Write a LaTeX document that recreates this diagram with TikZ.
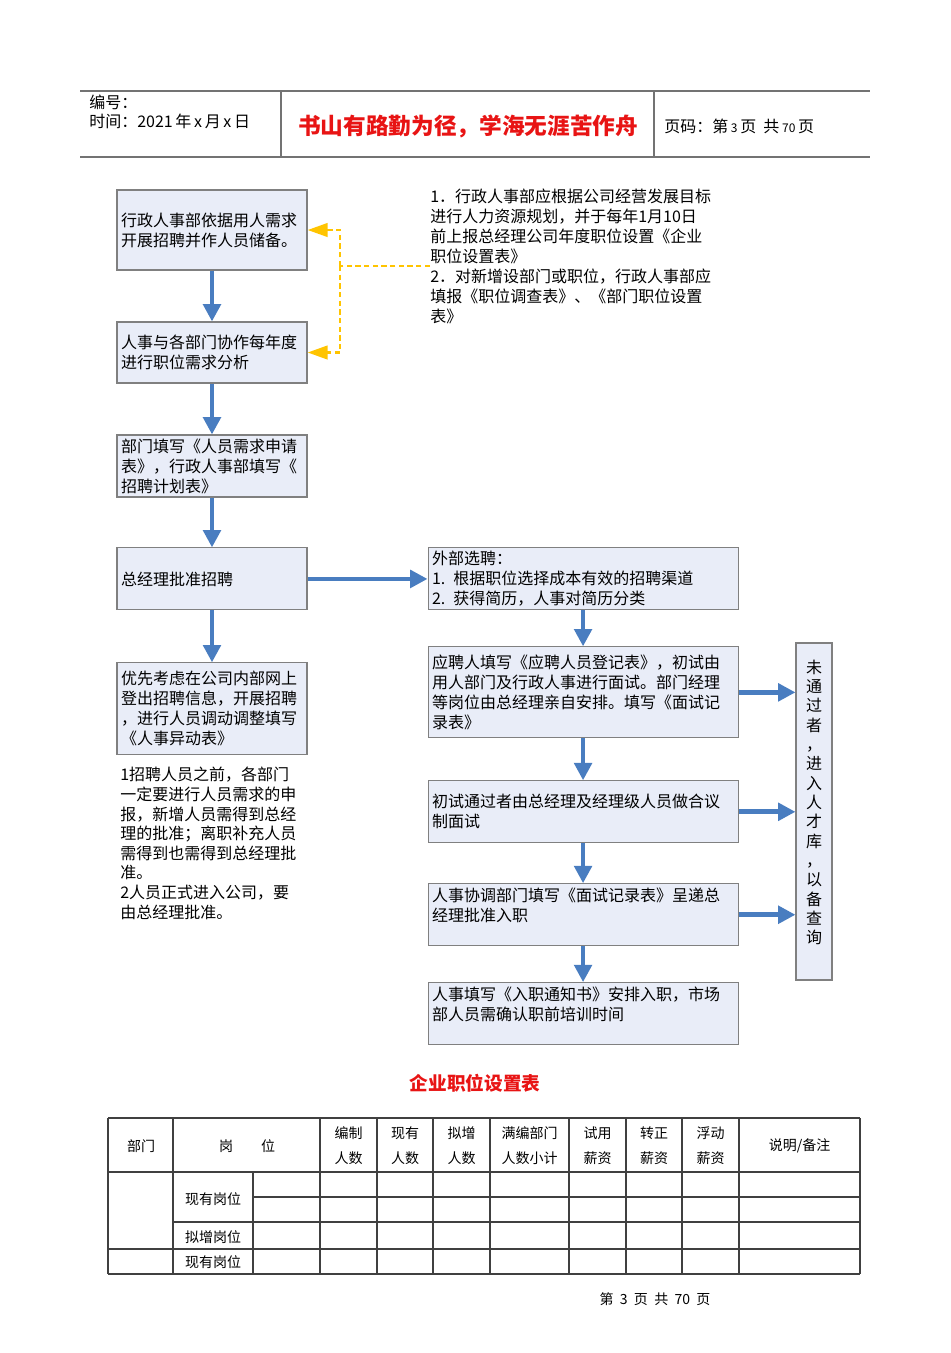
\documentclass[tikz,border=0pt]{standalone}
\usepackage{fontspec}
\setmainfont{Noto Sans CJK SC}
\usetikzlibrary{positioning,arrows.meta}
\definecolor{boxfill}{RGB}{233,237,248}
\definecolor{boxline}{RGB}{128,128,128}
\definecolor{flowblue}{RGB}{73,125,192}
\definecolor{noteyellow}{RGB}{255,196,0}
\definecolor{titlered}{RGB}{232,20,20}
\tikzset{
  lbox/.style={draw=boxline, fill=boxfill, line width=0.8pt, text width=136.5pt,
    inner xsep=3pt, inner ysep=1pt, align=left, font=\fontsize{12}{15}\selectfont},
  rbox/.style={lbox, text width=226.5pt},
  flow/.style={draw=flowblue, line width=3.5pt, -{Triangle[length=13pt,width=13pt]}},
  link/.style={draw=noteyellow, line width=2.2pt, dash pattern=on 4pt off 2.5pt},
  linktip/.style={-{Triangle[length=15pt,width=10pt]}},
  note/.style={inner sep=0pt, align=left, font=\fontsize{12}{15}\selectfont},
  headtext/.style={anchor=west, inner sep=0pt, font=\fontsize{12}{14}\selectfont},
  frameline/.style={draw=black!55, line width=1.1pt},
  tabline/.style={draw=black!75, line width=0.8pt},
  cell/.style={inner sep=0pt, align=center, font=\fontsize{10.5}{18.75}\selectfont},
}
\begin{document}
\begin{tikzpicture}[x=0.75pt,y=-0.75pt]
  \useasboundingbox (0,0) rectangle (950,1353);
  % page header
  \draw[frameline] (80,91) -- (870,91);
  \draw[frameline] (80,157) -- (870,157);
  \draw[frameline] (281,91) -- (281,157);
  \draw[frameline] (654,91) -- (654,157);
  \node[headtext] (num) at (89,102) {编号：};
  \node[headtext] (date) at (89,121) {时间：2021\,年\,x\,月\,x\,日};
  \node[text=titlered, font=\fontsize{17}{20}\selectfont\bfseries] (motto) at (468,126)
    {书山有路勤为径，学海无涯苦作舟};
  \node[headtext] (pageno) at (664,126) {页码：第\,{\small 3}\,页\ \ 共\,{\small 70}\,页};

  % left column
  \node[lbox, minimum height=60pt] (b1) at (212,230)
    {行政人事部依据用人需求\\开展招聘并作人员储备。};
  \node[lbox, minimum height=45.75pt] (b2) [below=38.2pt of b1]
    {人事与各部门协作每年度\\进行职位需求分析};
  \node[lbox, minimum height=46.5pt] (b3) [below=38.2pt of b2]
    {部门填写《人员需求申请\\表》，行政人事部填写《\\招聘计划表》};
  \node[lbox, minimum height=46.5pt] (b4) [below=37.4pt of b3] {总经理批准招聘};
  \node[lbox, minimum height=69pt] (b5) [below=38.9pt of b4]
    {优先考虑在公司内部网上\\登出招聘信息，开展招聘\\，进行人员调动调整填写\\《人事异动表》};
  \node[note, anchor=north west, text width=136.5pt, font=\fontsize{12}{14.7}\selectfont] (rule) at (120,767)
    {1招聘人员之前，各部门\\一定要进行人员需求的申\\报，新增人员需得到总经\\理的批准；离职补充人员\\需得到也需得到总经理批\\准。\\2人员正式进入公司，要\\由总经理批准。};

  % right column
  \node[note, anchor=north west, text width=225pt] (plan) at (430,189)
    {1．行政人事部应根据公司经营发展目标\\进行人力资源规划，并于每年1月10日\\前上报总经理公司年度职位设置《企业\\职位设置表》\\2．对新增设部门或职位，行政人事部应\\填报《职位调查表》、《部门职位设置\\表》};
  \node[rbox, minimum height=46.5pt] (r1) [right=90pt of b4]
    {外部选聘：\\1. 根据职位选择成本有效的招聘渠道\\2. 获得简历，人事对简历分类};
  \node[rbox, minimum height=68.25pt] (r2) [below=26.9pt of r1]
    {应聘人填写《应聘人员登记表》，初试由\\用人部门及行政人事进行面试。部门经理\\等岗位由总经理亲自安排。填写《面试记\\录表》};
  \node[rbox, minimum height=46.5pt] (r3) [below=31.4pt of r2]
    {初试通过者由总经理及经理级人员做合议\\制面试};
  \node[rbox, minimum height=46.5pt] (r4) [below=29.9pt of r3]
    {人事协调部门填写《面试记录表》呈递总\\经理批准入职\\~};
  \node[rbox, minimum height=46.5pt] (r5) [below=26.9pt of r4]
    {人事填写《入职通知书》安排入职，市场\\部人员需确认职前培训时间\\~};
  \node[lbox, text width=21pt, minimum height=252.75pt, align=center,
        font=\fontsize{12}{14.5}\selectfont] (pool) at (814,811.5)
    {未\\通\\过\\者\\，\\进\\入\\人\\才\\库\\，\\以\\备\\查\\询\\~};

  % dashed link from the planning note
  \coordinate (hub) at (340,266);
  \draw[link] (plan.west |- hub) -- (hub);
  \draw[link, linktip] (hub) |- (b1.east);
  \draw[link, linktip] (hub) |- (b2.east);

  % Directed edge
  \draw[flow] (b1) -- (b2);
  \draw[flow] (b2) -- (b3);
  \draw[flow] (b3) -- (b4);
  \draw[flow] (b4) -- (b5);
  \draw[flow] (b4) -- (r1);
  \draw[flow] (r1) -- (r2);
  \draw[flow] (r2) -- (r3);
  \draw[flow] (r3) -- (r4);
  \draw[flow] (r4) -- (r5);
  \draw[flow] (r2.east) -- (r2.east -| pool.west);
  \draw[flow] (r3.east) -- (r3.east -| pool.west);
  \draw[flow] (r4.east) -- (r4.east -| pool.west);

  % position table
  \node[text=titlered, font=\fontsize{14}{16}\selectfont\bfseries] (tabtitle) at (475,1083) {企业职位设置表};
  \foreach \x in {108,173,320,377,433,490,569,626,682,739,860}
    \draw[tabline] (\x,1118) -- (\x,1274);
  \draw[tabline] (253,1172) -- (253,1274);
  \draw[tabline] (108,1118) -- (860,1118);
  \draw[tabline] (108,1172) -- (860,1172);
  \draw[tabline] (253,1197) -- (860,1197);
  \draw[tabline] (173,1222) -- (860,1222);
  \draw[tabline] (108,1249) -- (860,1249);
  \draw[tabline] (108,1274) -- (860,1274);
  \node[cell] (dept) at (141,1146) {部门};
  \node[cell] (post) at (247,1146) {岗\hspace{2em}位};
  \foreach \cx/\ta/\tb [count=\i] in {348.5/编制/人数, 405/现有/人数, 461.5/拟增/人数,
      529.5/满编部门/人数小计, 597.5/试用/薪资, 654/转正/薪资, 710.5/浮动/薪资}
    \node[cell] (head\i) at (\cx,1146) {\ta\\\tb};
  \node[cell] (remark) at (799.5,1146) {说明/备注};
  \node[cell] (cur1) at (213,1199) {现有岗位};
  \node[cell] (new1) at (213,1237) {拟增岗位};
  \node[cell] (cur2) at (213,1262) {现有岗位};
  \node[cell] (foot) at (655,1299) {第\ \ 3\ \ 页\ \ 共\ \ 70\ \ 页};
\end{tikzpicture}
\end{document}
